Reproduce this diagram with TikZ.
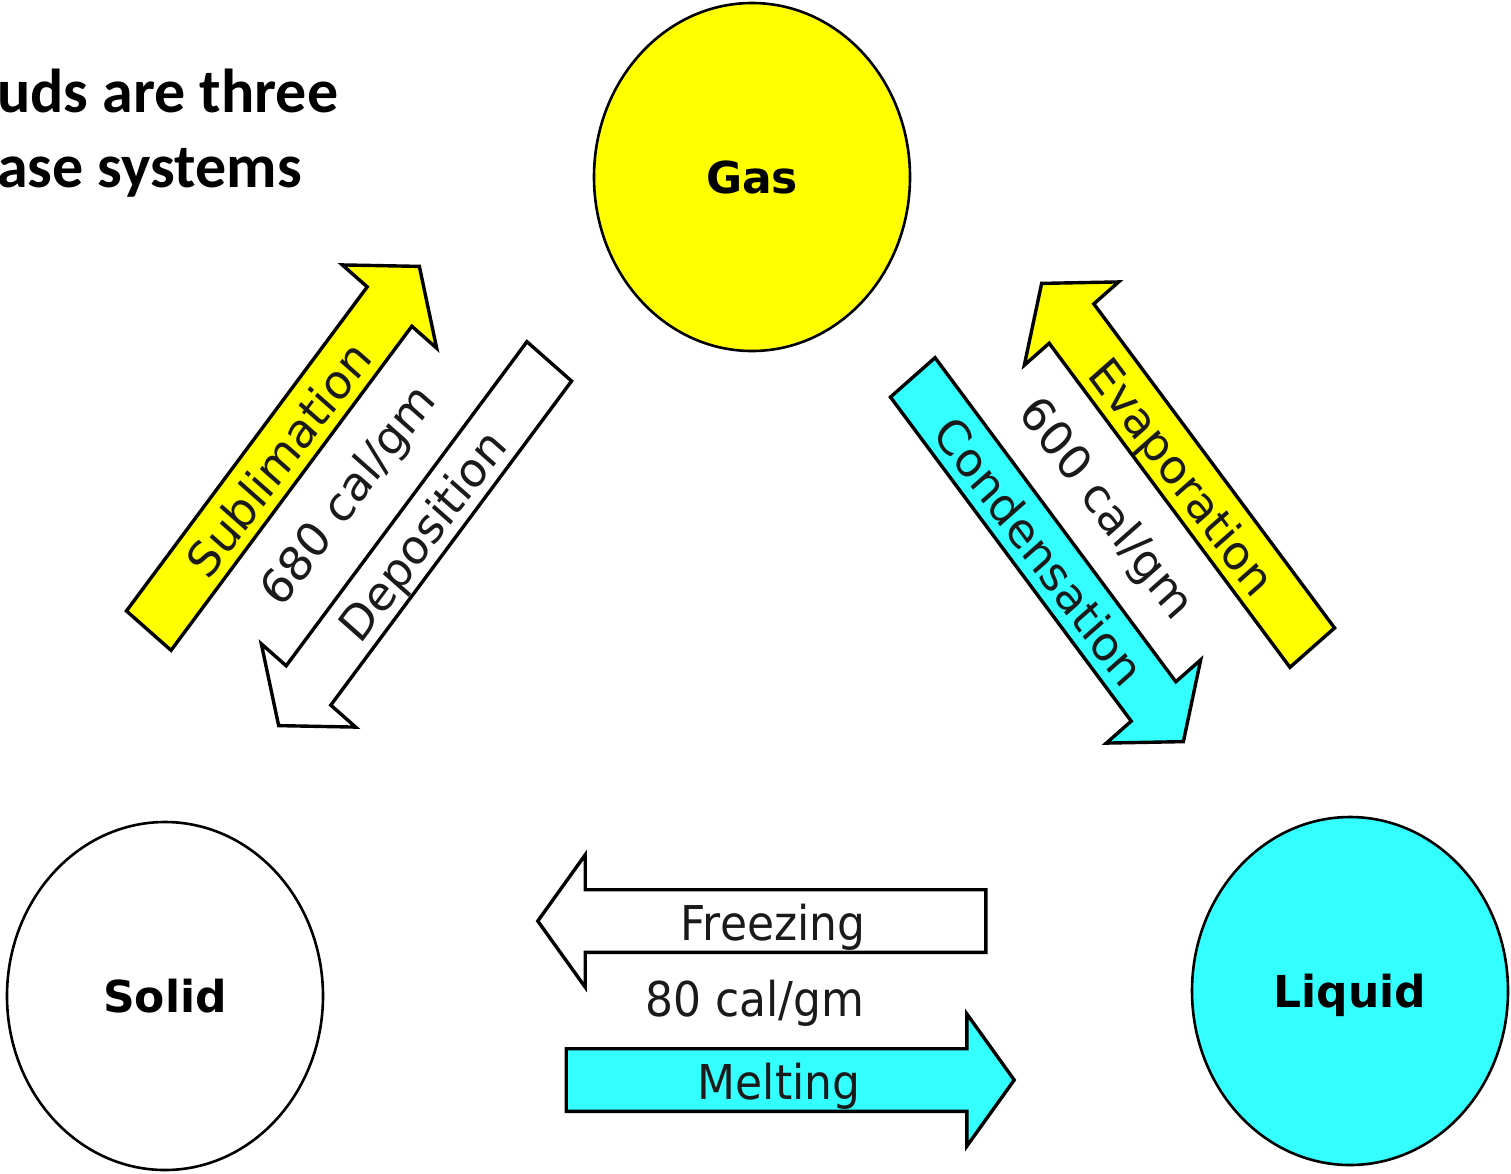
\documentclass[tikz,border=0pt]{standalone}
\usepackage{fontspec}
\usetikzlibrary{shapes.geometric,shapes.arrows}
\newfontfamily\labelfont{DejaVu Sans}
\newfontfamily\titlefont{Carlito}
\definecolor{gasyellow}{HTML}{FFFF00}
\definecolor{liqcyan}{HTML}{33FFFF}
\definecolor{ink}{HTML}{1A1A1A}
\tikzset{
  phase/.style={ellipse, draw=black, line width=2.6pt, inner sep=0pt,
                minimum width=316pt, minimum height=348pt,
                text height=32pt, text depth=0pt,
                font=\labelfont\bfseries\fontsize{44pt}{52pt}\selectfont},
  blockarrow/.style={single arrow, draw=black, line width=3.4pt,
                single arrow head extend=32pt, single arrow tip angle=104,
                inner xsep=0pt, inner ysep=0pt, text height=45pt, text depth=9pt,
                font=\labelfont\fontsize{44pt}{52pt}\selectfont, text=ink,
                yscale=1.09},
  heat/.style={font=\labelfont\fontsize{44pt}{52pt}\selectfont, text=ink,
               inner sep=0pt, yscale=1.09},
  title/.style={font=\titlefont\bfseries\fontsize{62pt}{75pt}\selectfont,
                anchor=base west, inner sep=0pt}
}
\begin{document}
\begin{tikzpicture}[x=1pt,y=-1pt]
  \useasboundingbox (0,0) rectangle (1511,1173);

  % heading, cut at the left edge
  \node[title] (head1) at (-3,112) {uds are three};
  \node[title] (head2) at (-3,187) {ase systems};

  % the three phases
  \node[phase, fill=gasyellow] (gas) at (752,177) {Gas};
  \node[phase, fill=white] (solid) at (165,996) {Solid};
  \node[phase, fill=liqcyan] (liquid) at (1350,991) {Liquid};

  % solid <-> gas
  \node[blockarrow, fill=gasyellow, minimum height=430pt, rotate=51] (subl) at (277,458) {Sublimation};
  \node[blockarrow, fill=white, minimum height=430pt, rotate=51, shape border rotate=180] (depo) at (421,534) {Deposition};
  \node[heat, rotate=51] (sgheat) at (350,497) {680 cal/gm};

  % liquid <-> gas
  \node[blockarrow, fill=gasyellow, minimum height=430pt, rotate=-51, shape border rotate=180] (evap) at (1184,475) {Evaporation};
  \node[blockarrow, fill=liqcyan, minimum height=430pt, rotate=-51] (cond) at (1041,550) {Condensation};
  \node[heat, rotate=-51] (lgheat) at (1105,510) {600 cal/gm};

  % solid <-> liquid
  \node[blockarrow, fill=white, minimum height=448pt, shape border rotate=180] (freeze) at (773,921) {Freezing};
  \node[heat] (slheat) at (755,1003) {80 cal/gm};
  \node[blockarrow, fill=liqcyan, minimum height=448pt] (melt) at (779,1080) {Melting};
\end{tikzpicture}
\end{document}
